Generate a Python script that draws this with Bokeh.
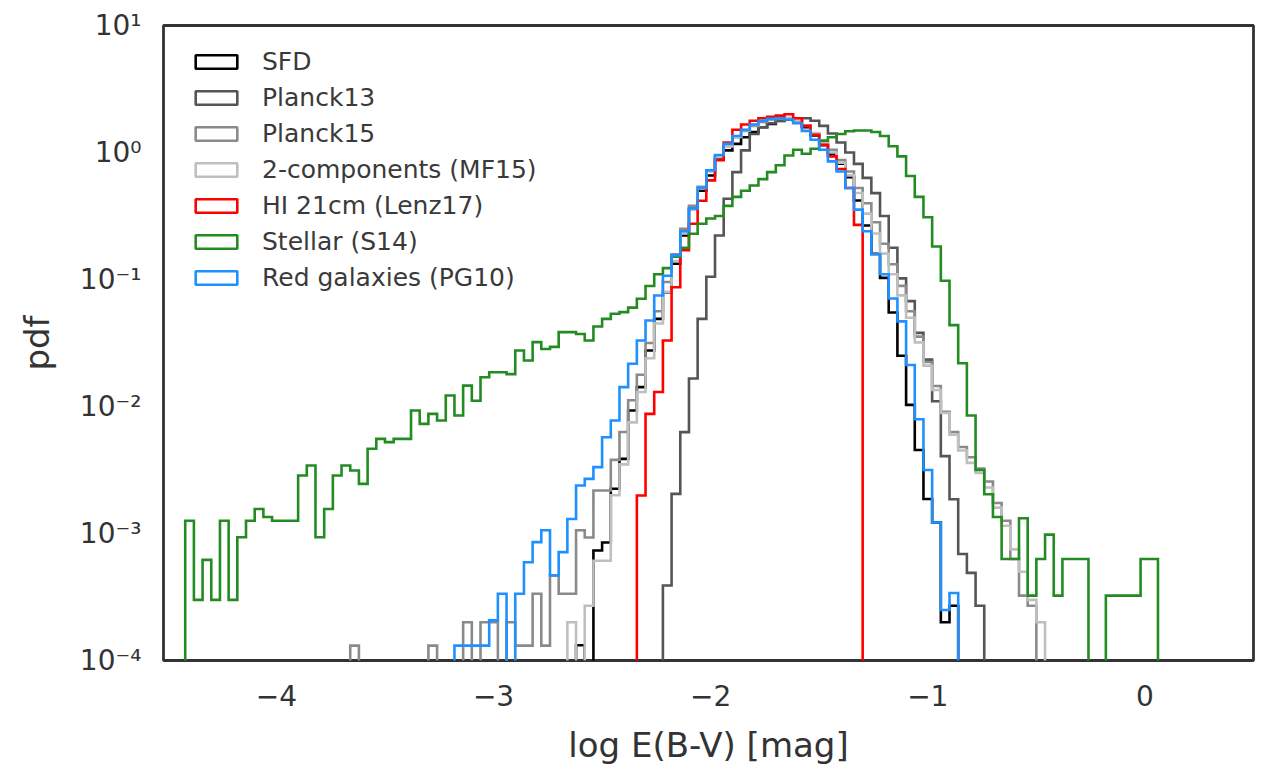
import numpy as np
from bokeh.plotting import figure
from bokeh.models import (Range1d, FixedTicker, CustomJSTickFormatter, Legend, LegendItem)
from bokeh.embed import file_html
from bokeh.resources import INLINE

# ---- shared histogram binning (log E(B-V)) ----
EDGE0 = -4.5
BIN_W = 0.04
PDF_FLOOR = 1e-7   # stand-in for empty bins on the log axis

x_ticks = [-4, -3, -2, -1, 0]
y_ticks = [1e-4, 1e-3, 1e-2, 1e-1, 1, 10]

# ---- per-map histograms: index of first bin + pdf per bin ----
sfd_first = 47
sfd_pdf = [1.32e-4, 0, 7.35e-4, 8.5e-4, 2.25e-3, 3.87e-3, 9.3e-3, 1.42e-2, 2.76e-2, 4.9e-2,
           7.94e-2, 0.133, 0.222, 0.36, 0.50, 0.659, 0.891, 1.04, 1.17, 1.32,
           1.45, 1.58, 1.68, 1.77, 1.81, 1.77, 1.58, 1.36, 1.14, 0.977,
           0.815, 0.64, 0.419, 0.266, 0.159, 0.103, 0.055, 0.0251, 0.0103, 4.54e-3,
           1.87e-3, 1.22e-3, 2.0e-4, 2.7e-4]

planck13_first = 57
planck13_pdf = [3.9e-4, 2.05e-3, 6.28e-3, 1.66e-2, 4.9e-2, 0.105, 0.222, 0.432, 0.70, 1.04,
                1.40, 1.58, 1.70, 1.78, 1.82, 1.86, 1.86, 1.78, 1.62, 1.41,
                1.20, 1.0, 0.813, 0.631, 0.479, 0.316, 0.178, 0.102, 0.0676, 0.038,
                0.0234, 0.011, 4.07e-3, 1.86e-3, 6.9e-4, 4.9e-4, 2.7e-4]

planck15_first = 21
planck15_pdf = [1.31e-4, 0, 0, 0, 0, 0, 0, 0, 0, 1.31e-4,
                0, 0, 0, 2.0e-4, 0, 2.0e-4, 2.0e-4, 0, 2.0e-4, 1.31e-4,
                1.31e-4, 3.35e-4, 1.31e-4, 4.68e-4, 3.35e-4, 3.35e-4, 1.06e-3, 9.3e-4, 2.18e-3, 2.18e-3,
                3.8e-3, 6.3e-3, 1.12e-2, 1.78e-2, 3.16e-2, 5.62e-2, 9.55e-2, 0.158, 0.251, 0.38,
                0.537, 0.724, 0.933, 1.12, 1.32, 1.48, 1.62, 1.74, 1.82, 1.86,
                1.86, 1.78, 1.62, 1.41, 1.20, 1.05, 0.871, 0.708, 0.525, 0.398,
                0.282, 0.191, 0.132, 0.0891, 0.0562, 0.0355, 0.0224, 0.0145, 9.1e-3, 6.3e-3,
                4.8e-3, 3.98e-3, 3.24e-3, 2.57e-3, 1.74e-3, 1.26e-3, 6.3e-4, 3.24e-4, 2.7e-4]

mf15_first = 46
mf15_pdf = [2.0e-4, 0, 2.7e-4, 6.1e-4, 6.1e-4, 2.0e-3, 3.5e-3, 7.5e-3, 1.3e-2, 2.4e-2,
            4.5e-2, 8.0e-2, 0.14, 0.23, 0.36, 0.52, 0.71, 0.92, 1.12, 1.33,
            1.50, 1.65, 1.78, 1.86, 1.9, 1.88, 1.8, 1.63, 1.42, 1.2,
            1.0, 0.83, 0.66, 0.48, 0.33, 0.23, 0.16, 0.11, 0.075, 0.05,
            0.032, 0.021, 0.0135, 8.9e-3, 6.0e-3, 4.5e-3, 3.6e-3, 3.0e-3, 2.3e-3, 1.6e-3,
            1.15e-3, 7.5e-4, 5.0e-4, 3.0e-4, 2.0e-4]

hi_first = 54
hi_pdf = [1.99e-3, 8.75e-3, 1.30e-2, 3.31e-2, 8.7e-2, 0.17, 0.275, 0.417, 0.603, 0.871,
          1.20, 1.51, 1.66, 1.78, 1.86, 1.91, 1.95, 2.0, 1.86, 1.62,
          1.38, 1.15, 0.933, 0.741, 0.525, 0.269]

stellar_first = 2
stellar_pdf = [1.26e-3, 3.0e-4, 6.2e-4, 3.0e-4, 1.26e-3, 3.0e-4, 9.35e-4, 1.26e-3, 1.56e-3, 1.35e-3,
               1.26e-3, 1.26e-3, 1.26e-3, 2.86e-3, 3.43e-3, 9.35e-4, 1.56e-3, 2.86e-3, 3.43e-3, 3.13e-3,
               2.46e-3, 4.65e-3, 5.56e-3, 5.24e-3, 5.56e-3, 5.56e-3, 9.3e-3, 7.3e-3, 8.75e-3, 7.76e-3,
               1.22e-2, 8.5e-3, 1.46e-2, 1.11e-2, 1.70e-2, 1.86e-2, 1.86e-2, 1.80e-2, 2.76e-2, 2.30e-2,
               3.21e-2, 2.84e-2, 2.95e-2, 3.85e-2, 3.85e-2, 3.72e-2, 3.31e-2, 4.27e-2, 4.9e-2, 5.37e-2,
               5.53e-2, 6.0e-2, 7.05e-2, 8.9e-2, 0.110, 0.123, 0.151, 0.178, 0.229, 0.275,
               0.302, 0.316, 0.38, 0.447, 0.50, 0.55, 0.617, 0.70, 0.794, 0.946,
               1.05, 0.977, 1.07, 1.24, 1.32, 1.40, 1.47, 1.49, 1.49, 1.45,
               1.35, 1.12, 0.933, 0.653, 0.447, 0.309, 0.182, 0.0977, 0.0437, 0.0219,
               8.5e-3, 3.16e-3, 2.04e-3, 1.35e-3, 6.3e-4, 6.3e-4, 1.32e-3, 3.24e-4, 6.3e-4, 9.8e-4,
               3.24e-4, 6.3e-4, 6.3e-4, 6.3e-4, 0, 0, 3.24e-4, 3.24e-4, 3.24e-4, 3.24e-4,
               6.3e-4, 6.3e-4]

pg10_first = 33
pg10_pdf = [1.31e-4, 1.31e-4, 1.31e-4, 1.31e-4, 2.07e-4, 3.35e-4, 0, 3.35e-4, 5.94e-4, 8.55e-4,
            1.06e-3, 4.67e-4, 7.13e-4, 1.30e-3, 2.39e-3, 2.69e-3, 3.33e-3, 5.73e-3, 7.76e-3, 1.42e-2,
            2.17e-2, 3.31e-2, 4.75e-2, 7.48e-2, 0.107, 0.155, 0.24, 0.363, 0.525, 0.724,
            0.955, 1.17, 1.35, 1.51, 1.66, 1.78, 1.84, 1.86, 1.82, 1.70,
            1.48, 1.26, 1.05, 0.851, 0.708, 0.525, 0.355, 0.24, 0.158, 0.110,
            0.0708, 0.0468, 0.0212, 7.94e-3, 3.16e-3, 1.22e-3, 2.5e-4, 3.4e-4]

labels = ["SFD", "Planck13", "Planck15", "2-components (MF15)",
          "HI 21cm (Lenz17)", "Stellar (S14)", "Red galaxies (PG10)"]
firsts = [sfd_first, planck13_first, planck15_first, mf15_first,
          hi_first, stellar_first, pg10_first]
pdfs = [sfd_pdf, planck13_pdf, planck15_pdf, mf15_pdf, hi_pdf, stellar_pdf, pg10_pdf]
colors = ["#000000", "#555555", "#8a8a8a", "#bfbfbf", "#ff0000", "#228b22", "#1e90ff"]


def step_outline(first, pdf):
    xs, ys = [], []
    x_left = EDGE0 + BIN_W * first
    xs.append(x_left)
    ys.append(PDF_FLOOR)
    for i, v in enumerate(pdf):
        x0 = EDGE0 + BIN_W * (first + i)
        x1 = x0 + BIN_W
        y = v if v > 0 else PDF_FLOOR
        xs += [x0, x1]
        ys += [y, y]
    xs.append(xs[-1])
    ys.append(PDF_FLOOR)
    return xs, ys


TEXT = "#333333"
FONT = "DejaVu Sans"
LW = 2.6

p = figure(frame_width=1090, frame_height=635,
           min_border_left=163, min_border_right=10, min_border_top=25, min_border_bottom=109,
           x_range=Range1d(-4.52, 0.5), y_range=Range1d(1e-4, 10),
           y_axis_type="log", output_backend="svg", toolbar_location=None,
           background_fill_color="white", border_fill_color="white")

p.grid.visible = False
p.outline_line_color = "#333333"
p.outline_line_width = 2.8

p.xaxis.ticker = FixedTicker(ticks=x_ticks)
p.xaxis.formatter = CustomJSTickFormatter(
    code="return tick < 0 ? '\\u2212' + Math.abs(tick) : String(tick);")
p.yaxis.ticker = FixedTicker(ticks=y_ticks)
p.yaxis.formatter = CustomJSTickFormatter(code="""
const e = Math.round(Math.log10(tick));
const sup = {'-': '\\u207B', '0': '\\u2070', '1': '\\u00B9', '2': '\\u00B2', '3': '\\u00B3',
             '4': '\\u2074', '5': '\\u2075', '6': '\\u2076', '7': '\\u2077', '8': '\\u2078', '9': '\\u2079'};
return '10' + String(e).split('').map(c => sup[c]).join('');
""")

for ax in (p.xaxis, p.yaxis):
    ax.axis_line_color = None
    ax.major_tick_line_color = None
    ax.minor_tick_line_color = None
    ax.major_tick_out = 0
    ax.major_tick_in = 0
    ax.minor_tick_out = 0
    ax.minor_tick_in = 0
    ax.major_label_text_font = FONT
    ax.major_label_text_font_size = "28px"
    ax.major_label_text_color = TEXT
    ax.axis_label_text_font = FONT
    ax.axis_label_text_font_size = "34px"
    ax.axis_label_text_font_style = "normal"
    ax.axis_label_text_color = TEXT

p.xaxis.axis_label = "log E(B-V) [mag]"
p.yaxis.axis_label = "pdf"
p.xaxis.major_label_standoff = 24
p.xaxis.axis_label_standoff = 16
p.yaxis.major_label_standoff = 22
p.yaxis.axis_label_standoff = 20

items = []
for name, first, pdf, color in zip(labels, firsts, pdfs, colors):
    xs, ys = step_outline(first, pdf)
    p.line(xs, ys, line_color=color, line_width=LW, line_join="miter")
    # legend proxy: an unfilled box placed outside the visible x range
    proxy = p.quad(left=[10.0], right=[11.0], top=[1.0], bottom=[0.5], fill_color=None,
                   fill_alpha=0, line_color=color, line_width=LW)
    items.append(LegendItem(label=name, renderers=[proxy]))

legend = Legend(items=items, location=(27, 368), orientation="vertical",
                glyph_width=52, glyph_height=17, label_height=29, label_standoff=20,
                spacing=7, padding=0, margin=0,
                label_text_font=FONT, label_text_font_size="25px", label_text_color="#3a3a3a",
                border_line_color=None, background_fill_alpha=0)
p.add_layout(legend)

open("out.html", "w").write(file_html(p, INLINE))
